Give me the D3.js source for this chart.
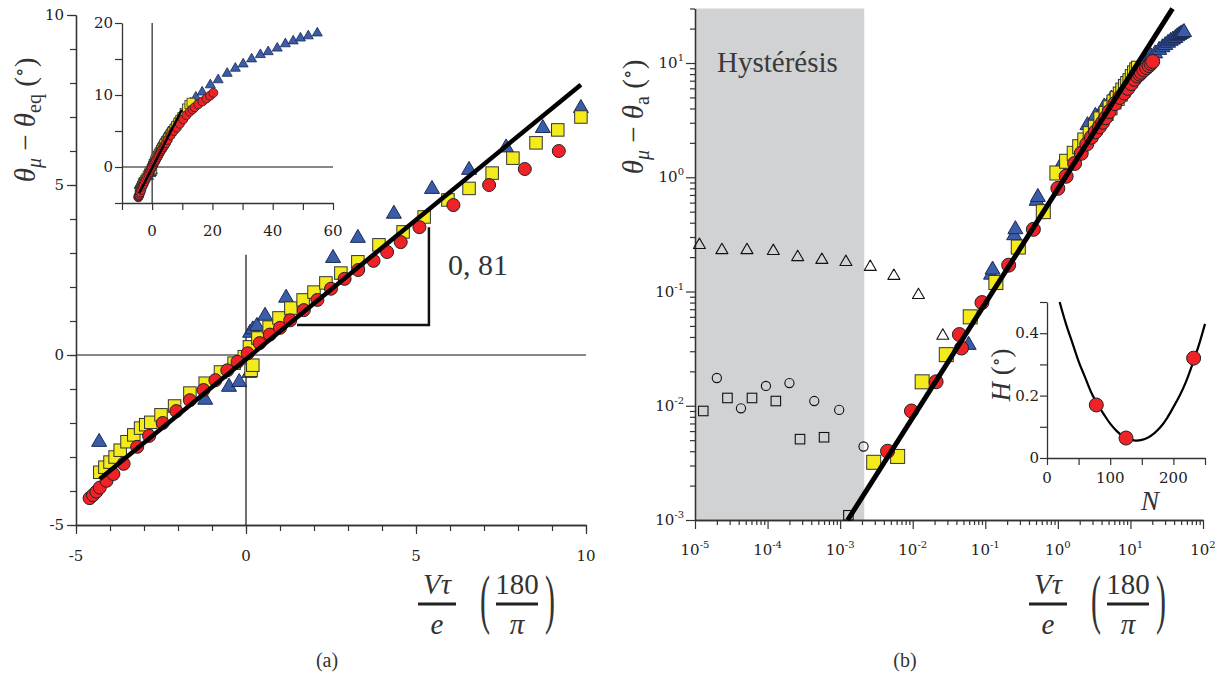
<!DOCTYPE html>
<html><head><meta charset="utf-8">
<script src="https://cdn.jsdelivr.net/npm/d3@7"></script>
<style>
body{margin:0;background:#fff}svg{display:block}
.serif{font-family:"Liberation Serif","DejaVu Serif","Noto Serif","Times New Roman",Times,serif}
.tickf{font-family:"DejaVu Serif","Liberation Serif","Noto Serif",serif}
</style>
</head><body>
<svg id="c" width="1215" height="677"></svg>
<script>
// ---------- DATA ----------
// Panel (a): three series, theta_mu - theta_eq vs V tau / e (also used in inset)
const redX = [-4.6,-4.5,-4.4,-4.3,-4.1,-3.9,-3.6,-3.2,-2.85,-2.45,-2.05,-1.65,-1.25,-0.9,-0.55,-0.25,0.05,0.4,0.7,1.0,1.3,1.7,2.1,2.5,2.9,3.3,3.75,4.15,4.55,5.1,6.1,7.15,8.2,9.2,10.3,11.4,12.5,13.4,14.1,15.3,16.7,18.0,19.2,20.3];
const redY = [-4.21,-4.12,-4.02,-3.9,-3.7,-3.5,-3.2,-2.7,-2.38,-2.0,-1.65,-1.33,-1.03,-0.74,-0.45,-0.2,0.05,0.35,0.6,0.8,1.02,1.32,1.62,1.95,2.24,2.5,2.77,3.03,3.32,3.76,4.41,5.0,5.47,6.0,6.6,7.2,7.7,8.0,8.3,8.7,9.1,9.5,9.9,10.3];
const yellowX = [-4.3,-4.15,-4.0,-3.85,-3.7,-3.5,-3.3,-3.1,-2.95,-2.8,-2.5,-2.1,-1.65,-1.2,-0.75,-0.35,-0.05,0.15,0.2,0.1,0.35,0.68,0.97,1.32,1.68,2.0,2.35,2.79,3.29,3.91,4.62,5.24,5.94,6.56,7.24,7.85,8.53,9.17,9.85,10.6,11.4,12.2,12.9];
const yellowY = [-3.45,-3.3,-3.15,-3.0,-2.8,-2.55,-2.35,-2.15,-2.05,-1.98,-1.76,-1.5,-1.12,-0.83,-0.5,-0.24,-0.05,-0.45,-0.3,0.24,0.5,0.82,1.09,1.38,1.62,1.85,2.12,2.41,2.74,3.24,3.62,4.06,4.56,4.9,5.35,5.79,6.24,6.62,7.0,7.6,8.2,8.7,9.0];
const blueX = [-4.32,-1.2,-0.5,-0.2,0.1,0.12,0.2,0.32,0.56,1.18,2.56,3.29,4.35,5.47,6.56,7.65,8.73,9.85,11.2,12.8,14.5,16.6,19.3,21.9,24.9,27.6,30.2,33.0,35.9,38.5,41.5,44.2,46.8,49.2,51.8,54.8];
const blueY = [-2.56,-1.32,-0.94,-0.8,-0.53,0.65,0.75,0.85,1.15,1.68,2.85,3.44,4.15,4.88,5.44,6.1,6.67,7.26,8.0,8.9,9.7,10.4,11.4,12.1,13.0,13.7,14.3,15.0,15.6,16.0,16.5,17.1,17.5,17.9,18.2,18.6];
const fitAX = [-4.3, 9.85];
const fitAY = [-3.65, 7.95];
const slopeTriX = [1.5, 5.38, 5.38];
const slopeTriY = [0.88, 0.88, 3.76];
const slopeLabel = "0, 81";

// Panel (b): low-velocity parts (the rest re-uses the series above)
const rRedLowX = [0.0045,0.0096,0.021,0.044,0.047,0.09,0.21,0.46];
const rRedLowY = [0.0040,0.0090,0.0162,0.042,0.032,0.08,0.17,0.35];
const rYelLowX = [0.0029,0.0062,0.0135,0.029,0.062,0.14,0.285,0.63];
const rYelLowY = [0.0032,0.0036,0.0162,0.028,0.06,0.12,0.245,0.5];
const rBlueLowX = [0.059,0.12,0.126,0.25,0.26,0.51,0.53,1.1,1.15];
const rBlueLowY = [0.034,0.14,0.155,0.31,0.35,0.62,0.67,1.2,1.33];
const openTriX = [1.15e-5,2.35e-5,5.2e-5,1.2e-4,2.6e-4,5.6e-4,1.2e-3,2.6e-3,5.5e-3,1.2e-2,2.6e-2];
const openTriY = [0.255,0.23,0.23,0.226,0.2,0.189,0.181,0.164,0.137,0.093,0.041];
const openCircX = [2.0e-5,4.3e-5,9.5e-5,2.0e-4,4.4e-4,9.7e-4,2.1e-3];
const openCircY = [0.0175,0.0095,0.0149,0.0158,0.011,0.0092,0.0044];
const openSqX = [1.3e-5,2.8e-5,6.1e-5,1.3e-4,2.8e-4,6.0e-4,1.3e-3];
const openSqY = [0.009,0.0117,0.0117,0.011,0.0051,0.0053,0.0011];
const fitBX = [0.00127, 38];
const fitBY = [0.001, 29.9];
const hysteresisX = [1e-5, 2.15e-3];
const hysteresisLabel = "Hystérésis";

// Panel (b) inset: H vs N
const hN = [78, 125, 232];
const hH = [0.17, 0.064, 0.32];
const hCurveN = [20,30,40,50,60,70,80,90,100,110,120,130,140,150,160,170,180,190,200,210,220,230,240,250];
const hCurveH = [0.5,0.43,0.37,0.31,0.26,0.21,0.172,0.14,0.11,0.087,0.07,0.06,0.056,0.058,0.066,0.08,0.1,0.128,0.163,0.2,0.245,0.3,0.36,0.43];

// Tick labels
const aTicks = [-5,0,5,10];
const aTickLabels = ["-5","0","5","10"];
const insXTicks = [0,20,40,60];
const insXLabels = ["0","20","40","60"];
const insYTicks = [0,10,20];
const insYLabels = ["0","10","20"];
const bXExp = [-5,-4,-3,-2,-1,0,1,2];
const bYExp = [-3,-2,-1,0,1];
const hXTicks = [0,100,200];
const hXLabels = ["0","100","200"];
const hYTicks = [0,0.2,0.4];
const hYLabels = ["0","0.2","0.4"];

// ---------- STYLE ----------
const RED = "#ee2227", YEL = "#f3eb1b", BLUE = "#3b5ca8", AX = "#333";

const svg = d3.select('#c');
const zip = (xs, ys) => xs.map((x,i)=>({x, y: ys[i]}));
const triPath = w => { const h = w*0.866; return `M0,${-h*2/3}L${w/2},${h/3}L${-w/2},${h/3}Z`; };

function drawAxis(g, axisFn, scale, tr, major, minor, majLen, minLen) {
  const gg = g.append('g').attr('transform', tr);
  if (minor) gg.append('g').call(axisFn(scale).tickValues(minor).tickSize(minLen).tickSizeOuter(0).tickFormat(''));
  gg.append('g').call(axisFn(scale).tickValues(major).tickSize(majLen).tickSizeOuter(0).tickFormat(''));
  gg.selectAll('path.domain').attr('stroke', AX).attr('stroke-width', 1.3);
  gg.selectAll('line').attr('stroke', AX).attr('stroke-width', 1.2);
  return gg;
}
function labels(g, vals, texts, xf, yf, anchor, size) {
  g.selectAll(null).data(vals).join('text').attr('class','tickf')
    .attr('x', (d,i)=>xf(d)).attr('y', (d,i)=>yf(d))
    .attr('text-anchor', anchor).attr('font-size', size).attr('fill', '#222')
    .text((d,i)=>texts[i]);
}
function markers(g, data, sx, sy, kind, size, fill, stroke, sw) {
  const sel = g.append('g');
  if (kind === 'circle') {
    sel.selectAll('circle').data(data).join('circle')
      .attr('cx', d=>sx(d.x)).attr('cy', d=>sy(d.y)).attr('r', size)
      .attr('fill', fill).attr('stroke', stroke).attr('stroke-width', sw);
  } else if (kind === 'square') {
    sel.selectAll('rect').data(data).join('rect')
      .attr('x', d=>sx(d.x)-size/2).attr('y', d=>sy(d.y)-size/2).attr('width', size).attr('height', size)
      .attr('fill', fill).attr('stroke', stroke).attr('stroke-width', sw);
  } else {
    sel.selectAll('path').data(data).join('path')
      .attr('transform', d=>`translate(${sx(d.x)},${sy(d.y)})`).attr('d', triPath(size))
      .attr('fill', fill).attr('stroke', stroke).attr('stroke-width', sw).attr('stroke-linejoin','round');
  }
}

const red = zip(redX, redY), yel = zip(yellowX, yellowY), blue = zip(blueX, blueY);

// ================= PANEL (a) =================
const ax = d3.scaleLinear([-5,10],[76,586]);
const ay = d3.scaleLinear([-5,10],[525,15]);
const gA = svg.append('g');
gA.append('line').attr('x1',ax(-5)).attr('x2',ax(10)).attr('y1',ay(0)).attr('y2',ay(0)).attr('stroke','#111').attr('stroke-width',1.2);
gA.append('line').attr('x1',ax(0)).attr('x2',ax(0)).attr('y1',ay(2.95)).attr('y2',ay(-5)).attr('stroke','#111').attr('stroke-width',1.2);
drawAxis(gA, d3.axisBottom, ax, `translate(0,${ay(-5)})`, aTicks, d3.range(-5,11,1), 9, 6);
drawAxis(gA, d3.axisLeft, ay, `translate(${ax(-5)},0)`, aTicks, d3.range(-5,11,1), 9, 6);
labels(gA, aTicks, aTickLabels, d=>ax(d), d=>561, 'middle', 15);
labels(gA, aTicks, aTickLabels, d=>64, d=>ay(d)+5, 'end', 15);
gA.append('path').attr('d', d3.line().x(d=>ax(d.x)).y(d=>ay(d.y))(zip(slopeTriX, slopeTriY)))
  .attr('fill','none').attr('stroke','#111').attr('stroke-width',2.5);
gA.append('text').attr('class','serif').attr('x',478).attr('y',275).attr('text-anchor','middle').attr('font-size',30).attr('fill','#333').text(slopeLabel);
const inA = d => d.x >= -5 && d.x <= 10;
markers(gA, blue.filter(inA), ax, ay, 'tri', 15, BLUE, '#1a2a55', 1);
markers(gA, yel.filter(inA), ax, ay, 'square', 12.5, YEL, '#333', 1);
markers(gA, red.filter(inA), ax, ay, 'circle', 6.5, RED, '#222', 1);
gA.append('path').attr('d', d3.line().x(d=>ax(d.x)).y(d=>ay(d.y))(zip(fitAX, fitAY)))
  .attr('stroke','#000').attr('stroke-width',4.5).attr('fill','none');

// inset of (a)
const ix = d3.scaleLinear([-10,60],[122,333]);
const iy = d3.scaleLinear([-5,20],[203,23]);
const gI = svg.append('g');
gI.append('line').attr('x1',ix(-10)).attr('x2',ix(60)).attr('y1',iy(0)).attr('y2',iy(0)).attr('stroke','#111').attr('stroke-width',1.1);
gI.append('line').attr('x1',ix(0)).attr('x2',ix(0)).attr('y1',iy(20)).attr('y2',iy(-5)).attr('stroke','#111').attr('stroke-width',1.1);
drawAxis(gI, d3.axisBottom, ix, `translate(0,${iy(-5)})`, d3.range(-10,61,10), null, 7, 5);
drawAxis(gI, d3.axisLeft, iy, `translate(${ix(-10)},0)`, d3.range(-5,21,5), null, 7, 5);
labels(gI, insXTicks, insXLabels, d=>ix(d), d=>236, 'middle', 15);
labels(gI, insYTicks, insYLabels, d=>113, d=>iy(d)+5, 'end', 15);
markers(gI, blue, ix, iy, 'tri', 10, BLUE, '#1a2a55', 0.8);
markers(gI, yel, ix, iy, 'square', 8, YEL, '#333', 0.8);
markers(gI, red, ix, iy, 'circle', 4.5, RED, '#222', 0.8);
gI.append('path').attr('d', d3.line().x(d=>ix(d.x)).y(d=>iy(d.y))(zip(fitAX, fitAY)))
  .attr('stroke','#000').attr('stroke-width',2.5).attr('fill','none');

// ================= PANEL (b) =================
const bx = d3.scaleLog([1e-5,1e2],[695,1203]);
const by = d3.scaleLog([1e-3,30],[520,8.5]);
const gB = svg.append('g');
gB.append('rect').attr('x',bx(hysteresisX[0])).attr('y',by(30)).attr('width',bx(hysteresisX[1])-bx(hysteresisX[0]))
  .attr('height',by(1e-3)-by(30)).attr('fill','#d1d2d4');
gB.append('text').attr('class','serif').attr('x',717).attr('y',72).attr('font-size',29).attr('fill','#3a3a3a').text(hysteresisLabel);
const minorX = [], minorY = [];
for (let e=-5;e<2;e++) for (let m=2;m<10;m++) minorX.push(m*Math.pow(10,e));
for (let e=-3;e<2;e++) for (let m=2;m<10;m++) { const v=m*Math.pow(10,e); if (v<=30) minorY.push(v); }
drawAxis(gB, d3.axisBottom, bx, `translate(0,${by(1e-3)})`, bXExp.map(e=>Math.pow(10,e)), minorX, 9, 5);
drawAxis(gB, d3.axisLeft, by, `translate(${bx(1e-5)},0)`, bYExp.map(e=>Math.pow(10,e)), minorY, 9, 5);
function powLabel(g, x, y, e, anchor) {
  const t = g.append('text').attr('class','tickf').attr('x',x).attr('y',y).attr('text-anchor',anchor).attr('font-size',15).attr('fill','#222');
  t.append('tspan').text('10');
  t.append('tspan').attr('dy',-7).attr('font-size',10).text(String(e));
}
bXExp.forEach(e => powLabel(gB, bx(Math.pow(10,e)), 555, e, 'middle'));
bYExp.forEach(e => powLabel(gB, 684, by(Math.pow(10,e))+5, e, 'end'));
markers(gB, zip(openTriX, openTriY), bx, by, 'tri', 12, 'none', '#111', 1.1);
markers(gB, zip(openCircX, openCircY), bx, by, 'circle', 4.6, 'none', '#111', 1.1);
markers(gB, zip(openSqX, openSqY), bx, by, 'square', 9.5, 'none', '#111', 1.1);
const rBlue = zip(rBlueLowX, rBlueLowY).concat(blue.filter(d=>d.x>=2));
const rYel = zip(rYelLowX, rYelLowY).concat(yel.filter(d=>d.x>=0.9));
const rRed = zip(rRedLowX, rRedLowY).concat(red.filter(d=>d.x>=0.9));
markers(gB, rBlue, bx, by, 'tri', 15, BLUE, '#1a2a55', 1);
markers(gB, rYel, bx, by, 'square', 14, YEL, '#333', 1);
markers(gB, rRed, bx, by, 'circle', 7, RED, '#222', 1);
gB.append('path').attr('d', d3.line().x(d=>bx(d.x)).y(d=>by(d.y))(zip(fitBX, fitBY)))
  .attr('stroke','#000').attr('stroke-width',5).attr('fill','none');

// inset of (b)
const hx = d3.scaleLinear([0,250],[1047,1205]);
const hy = d3.scaleLinear([0,0.5],[458,302]);
const gH = svg.append('g');
drawAxis(gH, d3.axisBottom, hx, `translate(0,${hy(0)})`, d3.range(0,251,50), null, 7, 5);
drawAxis(gH, d3.axisLeft, hy, `translate(${hx(0)},0)`, [0,0.1,0.2,0.3,0.4,0.5], null, 7, 5);
labels(gH, hXTicks, hXLabels, d=>hx(d), d=>483, 'middle', 15);
labels(gH, hYTicks, hYLabels, d=>1039, d=>hy(d)+5, 'end', 15);
gH.append('path').attr('d', d3.line().curve(d3.curveCatmullRom).x(d=>hx(d.x)).y(d=>hy(d.y))(zip(hCurveN, hCurveH)))
  .attr('stroke','#000').attr('stroke-width',2.2).attr('fill','none');
markers(gH, zip(hN, hH), hx, hy, 'circle', 7, RED, '#222', 1);
gH.append('text').attr('class','serif').attr('x',1150).attr('y',510).attr('text-anchor','middle').attr('font-style','italic').attr('font-size',27).attr('fill','#333').text('N');
{
  const t = gH.append('text').attr('class','serif').attr('transform','translate(1010,375) rotate(-90)').attr('text-anchor','middle')
    .attr('font-size',27).attr('fill','#333');
  t.append('tspan').attr('font-style','italic').text('H');
  t.append('tspan').text(' (');
  t.append('tspan').attr('dy',-8).attr('font-size',18).text('∘');
  t.append('tspan').attr('dy',8).text(')');
}

// ---------- axis titles ----------
function yTitle(x, y, sub) {
  const t = svg.append('text').attr('class','serif').attr('transform',`translate(${x},${y}) rotate(-90)`).attr('text-anchor','middle')
    .attr('font-size',29).attr('fill','#333');
  t.append('tspan').attr('font-style','italic').text('θ');
  t.append('tspan').attr('font-style','italic').attr('font-size',20).attr('dy',6).text('μ');
  t.append('tspan').attr('dy',-6).text(' − ');
  t.append('tspan').attr('font-style','italic').text('θ');
  t.append('tspan').attr('font-size',20).attr('dy',6).text(sub);
  t.append('tspan').attr('dy',-6).text('  (');
  t.append('tspan').attr('dy',-9).attr('font-size',20).text('∘');
  t.append('tspan').attr('dy',9).text(')');
}
yTitle(35, 120, 'eq');
yTitle(643, 117, 'a');

function xTitle(cx) {
  const g = svg.append('g').attr('class','serif').attr('fill','#333');
  g.append('text').attr('x',cx).attr('y',594).attr('text-anchor','middle').attr('font-size',29).attr('font-style','italic').text('Vτ');
  g.append('line').attr('x1',cx-19).attr('x2',cx+19).attr('y1',604).attr('y2',604).attr('stroke','#222').attr('stroke-width',3);
  g.append('text').attr('x',cx).attr('y',634).attr('text-anchor','middle').attr('font-size',29).attr('font-style','italic').text('e');
  g.append('text').attr('transform',`translate(${cx+48},621) scale(1,2.2)`).attr('text-anchor','middle').attr('font-size',30).text('(');
  g.append('text').attr('x',cx+80).attr('y',594).attr('text-anchor','middle').attr('font-size',29).text('180');
  g.append('line').attr('x1',cx+59).attr('x2',cx+101).attr('y1',604).attr('y2',604).attr('stroke','#222').attr('stroke-width',3);
  g.append('text').attr('x',cx+80).attr('y',634).attr('text-anchor','middle').attr('font-size',29).attr('font-style','italic').text('π');
  g.append('text').attr('transform',`translate(${cx+113},621) scale(1,2.2)`).attr('text-anchor','middle').attr('font-size',30).text(')');
}
xTitle(437);
xTitle(1048);

svg.append('text').attr('class','serif').attr('x',327).attr('y',667).attr('text-anchor','middle').attr('font-size',20).attr('fill','#333').text('(a)');
svg.append('text').attr('class','serif').attr('x',905).attr('y',667).attr('text-anchor','middle').attr('font-size',20).attr('fill','#333').text('(b)');
</script>
</body></html>
